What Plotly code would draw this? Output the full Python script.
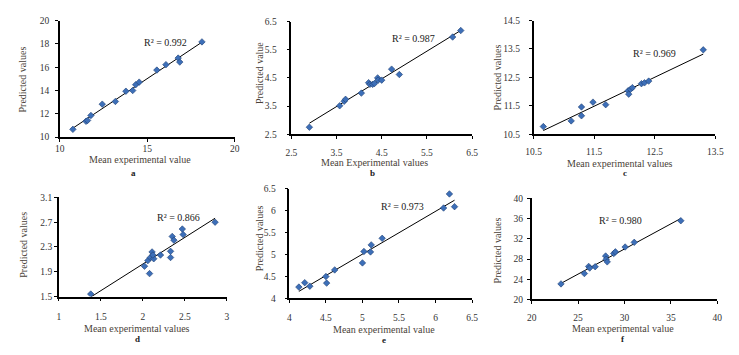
import numpy as np
import plotly.graph_objects as go

# ---------------- data ----------------
a_x = [10.75, 11.50, 11.59, 11.78, 12.43, 13.18, 13.78, 14.17, 14.34, 14.54, 15.55, 16.07, 16.77, 16.86, 18.13]
a_y = [10.67, 11.36, 11.44, 11.86, 12.83, 13.06, 13.94, 14.00, 14.50, 14.72, 15.75, 16.22, 16.78, 16.44, 18.17]

b_x = [2.90, 3.57, 3.67, 3.70, 4.05, 4.21, 4.24, 4.30, 4.34, 4.41, 4.42, 4.50, 4.72, 4.89, 6.07, 6.25]
b_y = [2.75, 3.51, 3.67, 3.74, 3.96, 4.33, 4.27, 4.27, 4.30, 4.50, 4.42, 4.42, 4.81, 4.62, 5.95, 6.18]

c_x = [10.66, 11.12, 11.29, 11.29, 11.48, 11.69, 12.06, 12.07, 12.10, 12.13, 12.28, 12.33, 12.40, 13.30]
c_y = [10.77, 10.97, 11.46, 11.15, 11.63, 11.54, 12.03, 11.91, 12.08, 12.14, 12.28, 12.31, 12.37, 13.47]

d_x = [1.38, 2.02, 2.08, 2.06, 2.09, 2.11, 2.13, 2.12, 2.21, 2.33, 2.33, 2.35, 2.37, 2.47, 2.48, 2.86]
d_y = [1.54, 1.99, 1.87, 2.08, 2.13, 2.22, 2.11, 2.17, 2.17, 2.23, 2.13, 2.47, 2.41, 2.59, 2.50, 2.70]

e_x = [4.13, 4.21, 4.28, 4.50, 4.51, 4.62, 5.00, 5.02, 5.11, 5.12, 5.27, 6.11, 6.19, 6.26]
e_y = [4.26, 4.36, 4.28, 4.50, 4.35, 4.65, 4.81, 5.07, 5.06, 5.22, 5.37, 6.06, 6.38, 6.09]

f_x = [23.16, 25.68, 26.14, 26.25, 26.84, 27.97, 28.03, 28.14, 28.84, 29.02, 30.07, 31.05, 36.07]
f_y = [23.08, 25.13, 26.54, 26.22, 26.48, 28.60, 27.95, 27.44, 29.10, 29.42, 30.38, 31.30, 35.58]

r2_labels = ["R² = 0.992", "R² = 0.987", "R² = 0.969", "R² = 0.866", "R² = 0.973", "R² = 0.980"]
x_titles = ["Mean experimental value", "Mean Experimental values", "Mean experimental values",
            "Mean experimental values", "Mean experimental value", "Mean experimental value"]
y_titles = ["Predicted values", "Predicted value", "Predicted values",
            "Predicted values", "Predicted values", "Predicted values"]
panel_letters = ["a", "b", "c", "d", "e", "f"]

x_ranges = [(10, 20), (2.5, 6.5), (10.5, 13.5), (1, 3), (4, 6.5), (20, 40)]
x_dticks = [5, 1, 1, 0.5, 0.5, 5]
y_ranges = [(10, 20), (2.5, 6.5), (10.5, 14.5), (1.5, 3.1), (4, 6.5), (20, 40)]
y_dticks = [2, 1, 1, 0.4, 0.5, 4]

series = [(a_x, a_y), (b_x, b_y), (c_x, c_y), (d_x, d_y), (e_x, e_y), (f_x, f_y)]

# ---------------- layout geometry (pixels) ----------------
W, H = 739, 355
# plot areas: left, right, top, bottom
boxes = [(53, 232, 16, 136), (290, 475, 17, 133), (538, 724, 16, 133),
         (52, 224, 198, 300), (288, 475, 189, 302), (536, 726, 199, 303)]
xlab_standoff = [-1, 6, 5, 7, 6, 5]
ylab_standoff = [4, 8, 7, 0, 7, 2]
r2_pos = [(161, 39), (415, 34), (662, 50), (175, 219), (404, 207), (627, 222)]
xt_pos = [(135, 159), (375, 162), (626, 163), (132, 333), (385, 334), (629, 333)]
yt_pos = [(15, 77), (257, 70), (501, 74), (15, 247), (257, 240), (501, 252)]
pl_pos = [(128, 173), (373, 173), (632, 173), (133, 344), (385, 345), (629, 344)]

FONT = "Liberation Serif, Times New Roman, serif"
TITLE_COLOR = "#4a3f38"
TICK_COLOR = "#333333"
MARKER_COLOR = "#3d6fb8"

def px(x):
    return x / W

def py(y):
    return 1 - y / H

fig = go.Figure()
annotations = []

for i, (xs, ys) in enumerate(series):
    n = i + 1
    xa = "x" if n == 1 else f"x{n}"
    ya = "y" if n == 1 else f"y{n}"
    xs_arr = np.array(xs)
    ys_arr = np.array(ys)
    slope, inter = np.polyfit(xs_arr, ys_arr, 1)
    lx = np.array([xs_arr.min(), xs_arr.max()])
    fig.add_trace(go.Scatter(x=lx, y=slope * lx + inter, mode="lines",
                             line=dict(color="black", width=1),
                             xaxis=xa, yaxis=ya, showlegend=False, hoverinfo="skip"))
    fig.add_trace(go.Scatter(x=xs, y=ys, mode="markers",
                             marker=dict(symbol="diamond", size=5, color=MARKER_COLOR,
                                         line=dict(width=0.6, color="#1f3f73")),
                             xaxis=xa, yaxis=ya, showlegend=False))

    l, r, t, b = boxes[i]
    axkey = "xaxis" if n == 1 else f"xaxis{n}"
    aykey = "yaxis" if n == 1 else f"yaxis{n}"
    fig.update_layout({
        axkey: dict(domain=[px(l), px(r)], anchor=ya, range=list(x_ranges[i]),
                    dtick=x_dticks[i], tick0=x_ranges[i][0], showgrid=False, zeroline=False,
                    showline=True, linecolor="black", linewidth=1.5,
                    ticks="outside", ticklen=3, tickcolor="black", tickwidth=1.2,
                    ticklabelstandoff=xlab_standoff[i],
                    tickfont=dict(family=FONT, size=9.5, color=TICK_COLOR)),
        aykey: dict(domain=[py(b), py(t)], anchor=xa, range=list(y_ranges[i]),
                    dtick=y_dticks[i], tick0=y_ranges[i][0], showgrid=False, zeroline=False,
                    showline=True, linecolor="black", linewidth=1.5,
                    ticks="outside", ticklen=3, tickcolor="black", tickwidth=1.2,
                    ticklabelstandoff=ylab_standoff[i],
                    tickfont=dict(family=FONT, size=9.5, color=TICK_COLOR)),
    })

    common = dict(xref="paper", yref="paper", showarrow=False,
                  xanchor="center", yanchor="middle")
    annotations.append(dict(text=r2_labels[i], x=px(r2_pos[i][0]), y=py(r2_pos[i][1]),
                            font=dict(family=FONT, size=10, color="#222222"), **common))
    annotations.append(dict(text=x_titles[i], x=px(xt_pos[i][0]), y=py(xt_pos[i][1]),
                            font=dict(family=FONT, size=10, color=TITLE_COLOR), **common))
    annotations.append(dict(text=y_titles[i], x=px(yt_pos[i][0]), y=py(yt_pos[i][1]),
                            textangle=-90,
                            font=dict(family=FONT, size=10, color=TITLE_COLOR), **common))
    annotations.append(dict(text="<b>" + panel_letters[i] + "</b>", x=px(pl_pos[i][0]),
                            y=py(pl_pos[i][1]),
                            font=dict(family=FONT, size=9, color="#222222"), **common))

fig.update_layout(width=W, height=H, margin=dict(l=0, r=0, t=0, b=0),
                  paper_bgcolor="white", plot_bgcolor="white",
                  annotations=annotations, showlegend=False)

fig.write_html("out.html", config={"displayModeBar": False},
               post_script="document.body.style.margin='0';")
